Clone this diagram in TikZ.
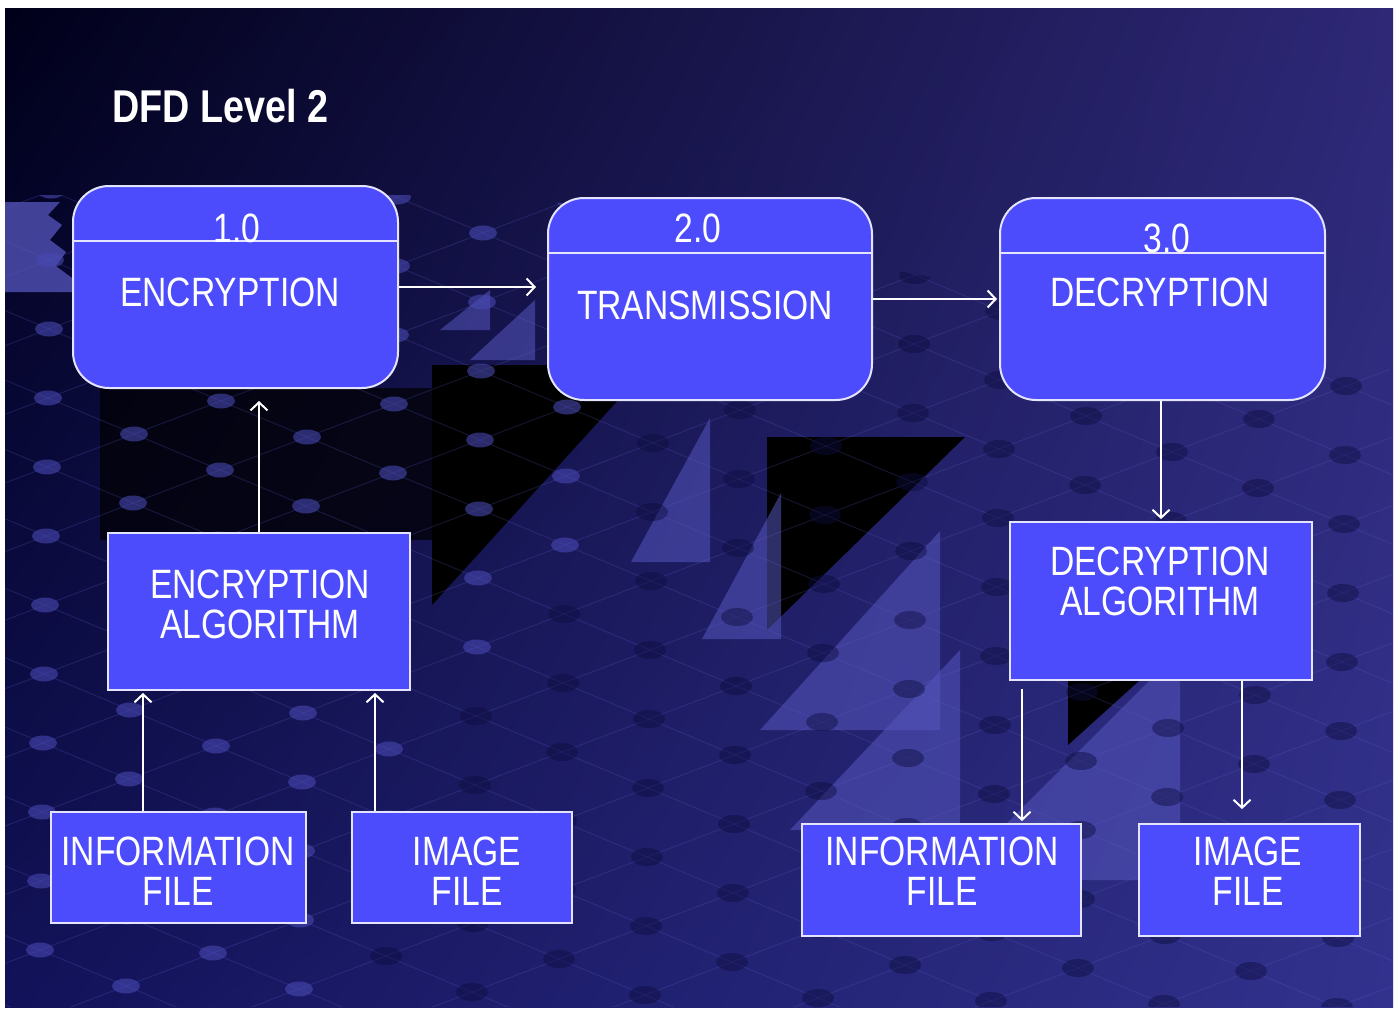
\documentclass[tikz,border=0pt]{standalone}
\usepackage{fontspec}
\setmainfont[FakeStretch=0.82]{Liberation Sans}
\usetikzlibrary{arrows.meta,calc,shadings}
\definecolor{boxfill}{RGB}{76,76,252}
\definecolor{boxline}{RGB}{228,228,255}
\definecolor{bgtl}{RGB}{0,0,26}
\definecolor{bgtr}{RGB}{46,40,118}
\definecolor{bgbl}{RGB}{18,18,90}
\definecolor{bgbr}{RGB}{50,50,142}
\definecolor{litri}{RGB}{86,86,190}
\definecolor{dotlt}{RGB}{72,72,178}
\definecolor{dotdk}{RGB}{12,12,62}
\definecolor{latcol}{RGB}{95,95,200}
\newcommand\boxfont{\fontsize{41}{40}\selectfont}
\newcommand\titlefont{\fontsize{46}{50}\selectfont\bfseries}
\begin{document}
\begin{tikzpicture}[x=1pt,y=-1pt,
  proc/.style={draw=boxline, line width=2pt, fill=boxfill, rounded corners=36pt, minimum width=325pt, minimum height=202pt, inner sep=0pt},
  ent/.style={draw=boxline, line width=1.8pt, fill=boxfill, inner sep=0pt},
  lbl/.style={text=white, font=\boxfont, inner sep=0pt, align=center},
  divline/.style={draw=boxline, line width=2pt},
  flow/.style={draw=white, line width=2pt, -{Straight Barb[length=8pt,width=17pt,line width=2pt]}},
  latline/.style={draw=latcol, line width=1pt, opacity=0.22},
  lighttri/.style={fill=litri, opacity=0.55},
  darktri/.style={fill=black}
]
\useasboundingbox (0,0) rectangle (1400,1009);
\fill[white] (0,0) rectangle (1400,1009);
\shade[upper left=bgtl, upper right=bgtr, lower left=bgbl, lower right=bgbr] (5,8) rectangle (1393,1007);

% background decoration
\begin{scope}
  \clip (5,195) -- (520,195) -- (1393,370) -- (1393,1007) -- (5,1007) -- cycle;
  \fill[black, opacity=0.7] (100,388) rectangle (432,540);
  \fill[litri, opacity=0.75] (5,202) -- (60,202) -- (48,215) -- (62,225) -- (50,240) -- (66,252) -- (56,266) -- (72,278) -- (72,292) -- (5,292) -- cycle;
  \fill[darktri] (432,365) -- (650,365) -- (432,605) -- cycle;
  \fill[darktri] (767,437) -- (965,437) -- (767,630) -- cycle;
  \fill[darktri] (1068,680) -- (1140,680) -- (1068,745) -- cycle;
  \fill[lighttri] (631,562) -- (710,418) -- (710,562) -- cycle;
  \fill[lighttri] (702,639) -- (781,493) -- (781,639) -- cycle;
  \fill[lighttri] (760,730) -- (940,531) -- (940,730) -- cycle;
  \fill[lighttri] (790,830) -- (960,650) -- (960,830) -- cycle;
  \fill[lighttri] (440,330) -- (490,290) -- (490,330) -- cycle;
  \fill[lighttri] (470,360) -- (535,300) -- (535,360) -- cycle;
  \fill[lighttri] (950,880) -- (1180,650) -- (1180,880) -- cycle;
  \foreach \i in {-16,...,22} {
    \pgfmathsetmacro\xa{47+86*\i-87*12}
    \pgfmathsetmacro\ya{467+36*\i+33*12}
    \pgfmathsetmacro\xb{47+86*\i+87*22}
    \pgfmathsetmacro\yb{467+36*\i-33*22}
    \draw[latline] (\xa,\ya) -- (\xb,\yb);
  }
  \foreach \j in {-10,...,22} {
    \pgfmathsetmacro\xa{47+87*\j-86*16}
    \pgfmathsetmacro\ya{467-33*\j-36*16}
    \pgfmathsetmacro\xb{47+87*\j+86*22}
    \pgfmathsetmacro\yb{467-33*\j+36*22}
    \draw[latline] (\xa,\ya) -- (\xb,\yb);
  }
  \foreach \i in {-16,...,22} {
    \foreach \j in {-10,...,22} {
      \pgfmathsetmacro\px{47+86*\i+87*\j}
      \pgfmathsetmacro\py{467+36*\i-33*\j}
      \pgfmathparse{(\px+0.6*\py)<900 ? 1 : 0}
      \ifnum\pgfmathresult=1
        \fill[dotlt, opacity=0.6] (\px,\py) ellipse (14 and 7.5);
      \else
        \fill[dotdk, opacity=0.45] (\px,\py) ellipse (16 and 9);
      \fi
    }
  }
\end{scope}

% title
\node[text=white, font=\titlefont, inner sep=0pt, anchor=west] (title) at (112,106) {DFD Level 2};

% process boxes
\node[proc] (b1) at (235.5,287) {};
\node[proc, minimum width=324pt] (b2) at (710,299) {};
\node[proc] (b3) at (1162.5,299) {};
\coordinate (d1) at (0,241);
\coordinate (d2) at (0,253);
\draw[divline] (b1.west |- d1) -- (b1.east |- d1);
\draw[divline] (b2.west |- d2) -- (b2.east |- d2);
\draw[divline] (b3.west |- d2) -- (b3.east |- d2);
\node[lbl] (n1) at (237,228) {1.0};
\node[lbl] (t1) at (230,292) {ENCRYPTION};
\node[lbl] (n2) at (698,228) {2.0};
\node[lbl] (t2) at (705,305) {TRANSMISSION};
\node[lbl] (n3) at (1167,238) {3.0};
\node[lbl] (t3) at (1160,292) {DECRYPTION};

% entity boxes
\node[ent, minimum width=302pt, minimum height=157pt] (alg1) at (259,611.5) {};
\node[ent, minimum width=255pt, minimum height=111pt] (info1) at (178.5,867.5) {};
\node[ent, minimum width=220pt, minimum height=111pt] (img1) at (462,867.5) {};
\node[ent, minimum width=302pt, minimum height=158pt] (alg2) at (1161,601) {};
\node[ent, minimum width=279pt, minimum height=112pt] (info2) at (941.5,880) {};
\node[ent, minimum width=221pt, minimum height=112pt] (img2) at (1249.5,880) {};

\node[lbl] (ta1) at (260,604) {ENCRYPTION\\ALGORITHM};
\node[lbl] (ti1) at (178,871) {INFORMATION\\FILE};
\node[lbl] (tm1) at (467,871) {IMAGE\\FILE};
\node[lbl] (ta2) at (1160,581.5) {DECRYPTION\\ALGORITHM};
\node[lbl] (ti2) at (942,871) {INFORMATION\\FILE};
\node[lbl] (tm2) at (1248,871) {IMAGE\\FILE};

% flows
\draw[flow, shorten >=11pt] (b1.east) -- (b2.west |- b1.east);
\draw[flow, shorten >=2pt] (b2.east) -- (b3.west |- b2.east);
\draw[flow, shorten >=12pt] (alg1.north) -- (alg1.north |- b1.south);
\coordinate (i1s) at ([xshift=-35.5pt]info1.north);
\draw[flow, shorten >=2pt] (i1s) -- (i1s |- alg1.south);
\coordinate (m1s) at ([xshift=-87pt]img1.north);
\draw[flow, shorten >=2pt] (m1s) -- (m1s |- alg1.south);
\draw[flow, shorten >=2pt] (b3.south -| alg2.north) -- (alg2.north);
\coordinate (a2l) at ([xshift=-139pt]alg2.south);
\draw[flow, shorten <=8pt, shorten >=2pt] (a2l) -- (a2l |- info2.north);
\coordinate (a2r) at ([xshift=81pt]alg2.south);
\draw[flow, shorten >=14pt] (a2r) -- (a2r |- img2.north);
\end{tikzpicture}
\end{document}
